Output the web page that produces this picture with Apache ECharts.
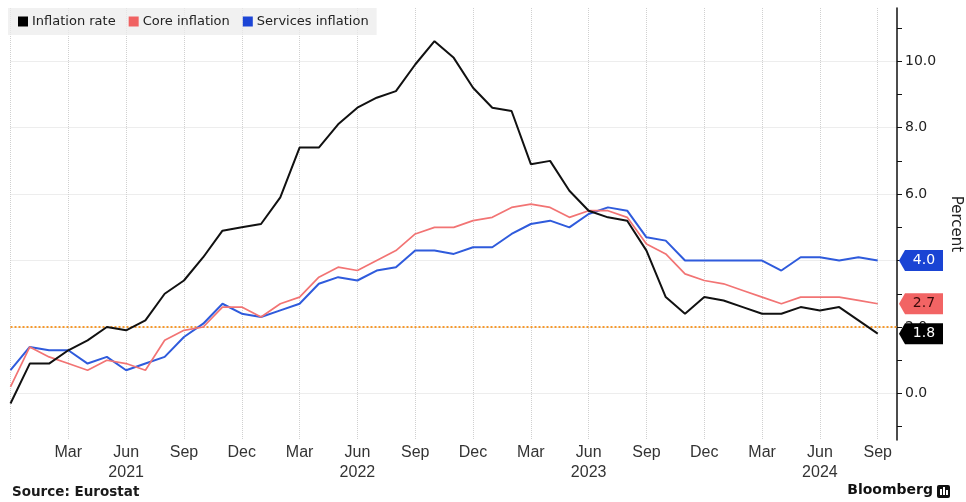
<!DOCTYPE html>
<html>
<head>
<meta charset="utf-8">
<script src="https://cdn.jsdelivr.net/npm/echarts@6/dist/echarts.min.js"></script>
<style>
  html, body { margin: 0; padding: 0; background: #fff; }
  #chart { width: 966px; height: 502px; }
</style>
</head>
<body>
<div id="chart"></div>
<script>
// Months (Dec 2020 .. Oct 2024; the last month is empty padding on the axis)
const months = [
  '2020-12',
  '2021-01','2021-02','2021-03','2021-04','2021-05','2021-06','2021-07','2021-08','2021-09','2021-10','2021-11','2021-12',
  '2022-01','2022-02','2022-03','2022-04','2022-05','2022-06','2022-07','2022-08','2022-09','2022-10','2022-11','2022-12',
  '2023-01','2023-02','2023-03','2023-04','2023-05','2023-06','2023-07','2023-08','2023-09','2023-10','2023-11','2023-12',
  '2024-01','2024-02','2024-03','2024-04','2024-05','2024-06','2024-07','2024-08','2024-09','2024-10'
];
const monthNames = ['Jan','Feb','Mar','Apr','May','Jun','Jul','Aug','Sep','Oct','Nov','Dec'];
const labeledMonths = [3, 6, 9, 12];

// Euro-area inflation, percent
const inflationRate = [
  -0.3,
  0.9, 0.9, 1.3, 1.6, 2.0, 1.9, 2.2, 3.0, 3.4, 4.1, 4.9, 5.0,
  5.1, 5.9, 7.4, 7.4, 8.1, 8.6, 8.9, 9.1, 9.9, 10.6, 10.1, 9.2,
  8.6, 8.5, 6.9, 7.0, 6.1, 5.5, 5.3, 5.2, 4.3, 2.9, 2.4, 2.9,
  2.8, 2.6, 2.4, 2.4, 2.6, 2.5, 2.6, 2.2, 1.8
];
const coreInflation = [
  0.2,
  1.4, 1.1, 0.9, 0.7, 1.0, 0.9, 0.7, 1.6, 1.9, 2.0, 2.6, 2.6,
  2.3, 2.7, 2.9, 3.5, 3.8, 3.7, 4.0, 4.3, 4.8, 5.0, 5.0, 5.2,
  5.3, 5.6, 5.7, 5.6, 5.3, 5.5, 5.5, 5.3, 4.5, 4.2, 3.6, 3.4,
  3.3, 3.1, 2.9, 2.7, 2.9, 2.9, 2.9, 2.8, 2.7
];
const servicesInflation = [
  0.7,
  1.4, 1.3, 1.3, 0.9, 1.1, 0.7, 0.9, 1.1, 1.7, 2.1, 2.7, 2.4,
  2.3, 2.5, 2.7, 3.3, 3.5, 3.4, 3.7, 3.8, 4.3, 4.3, 4.2, 4.4,
  4.4, 4.8, 5.1, 5.2, 5.0, 5.4, 5.6, 5.5, 4.7, 4.6, 4.0, 4.0,
  4.0, 4.0, 4.0, 3.7, 4.1, 4.1, 4.0, 4.1, 4.0
];
const targetRate = 2.0;

// Axis ticks / labels
const yLabelValues = [0, 2, 4, 6, 8, 10];
const yTickValues = [-1, 0, 1, 2, 3, 4, 5, 6, 7, 8, 9, 10, 11];
const yMin = -1.4, yMax = 11.6;

const FONT = "'DejaVu Sans', sans-serif";
const XFONT = "'Liberation Sans', Arial, sans-serif";

const monthOf = v => parseInt(v.slice(5), 10);
const lastMonth = months[months.length - 1];

const tagPath = 'path://M0,10.5L6,0H44V21H6Z';
function tag(values, color, textColor) {
  const v = values[values.length - 1];
  return {
    silent: true,
    symbol: tagPath,
    symbolSize: [44, 21],
    symbolOffset: [24, 0],
    symbolKeepAspect: false,
    itemStyle: { color: color },
    label: {
      show: true, position: 'inside', offset: [3, 0],
      color: textColor, fontFamily: FONT, fontSize: 14,
      formatter: () => v.toFixed(1)
    },
    data: [{ coord: [lastMonth, v], value: v }]
  };
}

const chart = echarts.init(document.getElementById('chart'), null, { renderer: 'canvas' });
chart.setOption({
  animation: false,
  backgroundColor: '#ffffff',
  grid: { left: 10.5, right: 69, top: 8, bottom: 62, containLabel: false, outerBoundsMode: 'none' },
  legend: {
    left: 8, top: 8,
    padding: [7, 8, 7, 10],
    backgroundColor: 'rgba(236,236,236,0.75)',
    icon: 'rect', itemWidth: 10, itemHeight: 10, itemGap: 13,
    textStyle: { fontFamily: FONT, fontSize: 13, color: '#222', padding: [0, 0, 0, -1] },
    data: ['Inflation rate', 'Core inflation', 'Services inflation']
  },
  xAxis: {
    type: 'category',
    data: months,
    boundaryGap: false,
    axisLine: { show: false },
    axisTick: { show: false },
    splitLine: {
      show: true,
      interval: (i, v) => labeledMonths.includes(monthOf(v)),
      lineStyle: { color: '#d0d0d0', type: 'dotted', width: 1 }
    },
    axisLabel: {
      interval: (i, v) => i > 0 && labeledMonths.includes(monthOf(v)),
      margin: 3,
      fontFamily: XFONT, fontSize: 16, color: '#333', lineHeight: 19.5,
      formatter: v => {
        const m = monthOf(v);
        const name = monthNames[m - 1];
        return m === 6 ? name + '\n' + v.slice(0, 4) : name;
      }
    }
  },
  yAxis: [
    {
      type: 'value', position: 'right', min: yMin, max: yMax,
      name: 'Percent', nameLocation: 'middle', nameRotate: -90, nameGap: 51,
      nameTextStyle: { fontFamily: FONT, fontSize: 15, color: '#222' },
      axisLine: { show: true, lineStyle: { color: '#111', width: 1.5 } },
      axisTick: { show: true, length: 5, customValues: yTickValues, lineStyle: { color: '#111', width: 1 } },
      axisLabel: {
        customValues: yLabelValues, margin: 8,
        fontFamily: FONT, fontSize: 14, color: '#222',
        formatter: v => v.toFixed(1)
      },
      splitLine: { show: false }
    },
    {
      type: 'value', position: 'right', min: yMin, max: yMax,
      axisLine: { show: false },
      axisTick: { show: false, customValues: yLabelValues },
      axisLabel: { show: false },
      splitLine: { show: true, lineStyle: { color: '#dadada', type: 'dotted', width: 1 } }
    }
  ],
  series: [
    {
      name: 'Services inflation', type: 'line', data: servicesInflation,
      showSymbol: false, z: 3,
      itemStyle: { color: '#1c45d6' },
      lineStyle: { color: '#2f5bdc', width: 2 },
      markPoint: tag(servicesInflation, '#1a44d4', '#ffffff')
    },
    {
      name: 'Core inflation', type: 'line', data: coreInflation,
      showSymbol: false, z: 4,
      itemStyle: { color: '#f06262' },
      lineStyle: { color: '#f27474', width: 1.7 },
      markPoint: tag(coreInflation, '#f26464', '#3a0a0a')
    },
    {
      name: 'Inflation rate', type: 'line', data: inflationRate,
      showSymbol: false, z: 5,
      itemStyle: { color: '#000000' },
      lineStyle: { color: '#111111', width: 2 },
      markLine: {
        silent: true, symbol: 'none', z: 2,
        label: { show: false },
        lineStyle: { color: '#f59a2e', type: 'dotted', width: 2 },
        data: [{ yAxis: targetRate }]
      },
      markPoint: tag(inflationRate, '#000000', '#ffffff')
    }
  ],
  graphic: [
    {
      type: 'text', left: 12, top: 485,
      style: { text: 'Source: Eurostat', font: "bold 13.5px 'DejaVu Sans', sans-serif", fill: '#1a1a1a' }
    },
    {
      type: 'text', right: 33, top: 483,
      style: { text: 'Bloomberg', font: "bold 14px 'DejaVu Sans', sans-serif", fill: '#111' }
    },
    {
      type: 'group', right: 16, top: 485,
      children: [
        { type: 'rect', shape: { x: 0, y: 0, width: 13, height: 13, r: 2 }, style: { fill: '#111' } },
        { type: 'rect', shape: { x: 3, y: 4, width: 2, height: 6 }, style: { fill: '#fff' } },
        { type: 'rect', shape: { x: 6, y: 2, width: 2, height: 8 }, style: { fill: '#fff' } },
        { type: 'rect', shape: { x: 9, y: 5, width: 2, height: 5 }, style: { fill: '#fff' } }
      ]
    }
  ]
});
</script>
</body>
</html>
